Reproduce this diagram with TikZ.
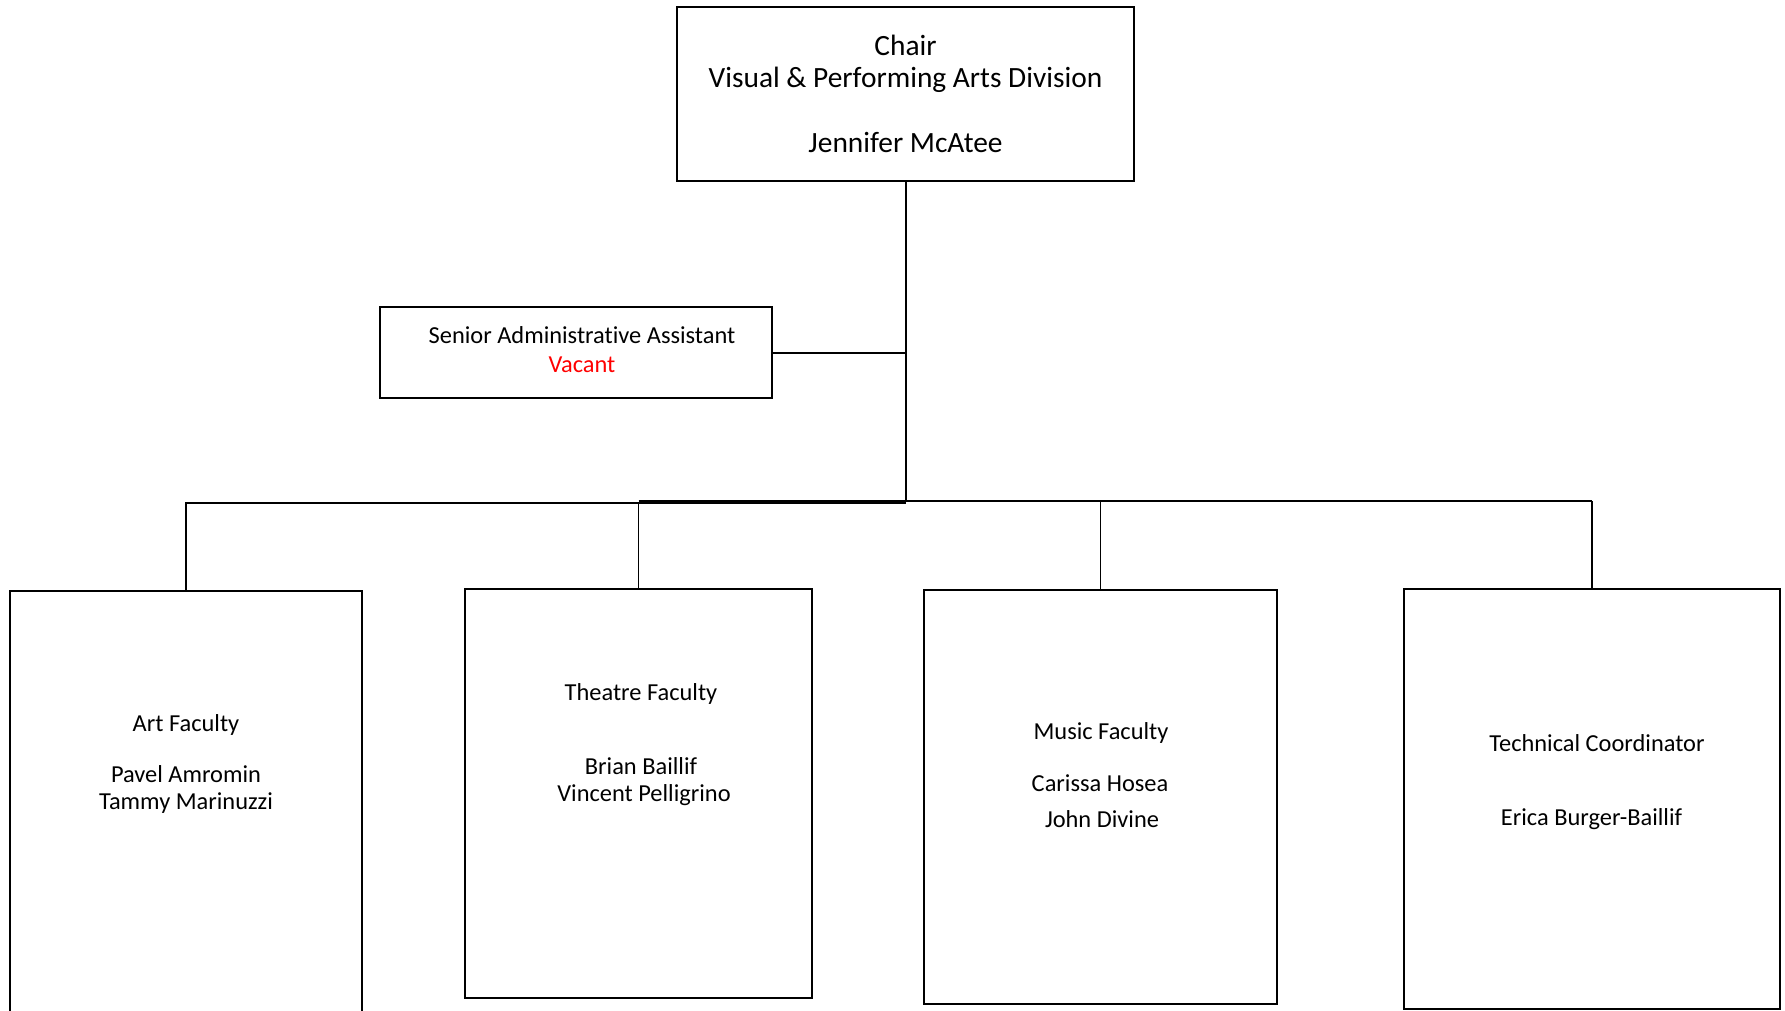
\documentclass[tikz,border=0pt]{standalone}
\usepackage{fontspec}
\setmainfont[Ligatures={NoCommon}]{Carlito}
\begin{document}
\begin{tikzpicture}[x=1pt,y=-1pt,
  box/.style={draw=black, line width=2pt, inner sep=0pt, fill=none},
  lbl/.style={inner sep=0pt, anchor=center, text height=15.6pt, text depth=0pt, font=\fontsize{24.4}{29}\selectfont},
  big/.style={inner sep=0pt, anchor=center, text height=18.8pt, text depth=0pt, font=\fontsize{29.4}{32}\selectfont},
  conn/.style={line width=2pt},
  drop/.style={line width=1.6pt}]
\useasboundingbox (0,0) rectangle (1785,1011);
\clip (0,0) rectangle (1785,1011);
\fill[white] (0,0) rectangle (1785,1011);

% boxes
\node[box, line width=2.3pt, minimum width=457pt, minimum height=174pt] (chair) at (905.5,94) {};
\node[box, minimum width=392pt, minimum height=91pt] (senior) at (576,352.5) {};
\node[box, minimum width=352pt, minimum height=439pt] (art) at (186,810.5) {};
\node[box, minimum width=347pt, minimum height=409pt] (theatre) at (638.5,793.5) {};
\node[box, minimum width=353pt, minimum height=414pt] (music) at (1100.5,797) {};
\node[box, minimum width=376pt, minimum height=420pt] (tech) at (1592,799) {};

% junction coordinates
\coordinate (hub) at (906,502);
\coordinate (hubL) at (906,503);
\coordinate (hubT) at (906,502);
\coordinate (hubR) at (906,500.5);
\coordinate (side) at (906,352.5);

% connectors
\draw[line width=2.8pt] (chair.south -| hub) -- (hub);
\draw[conn] (senior.east) -- (side);
\draw[conn] (art.north) -- (art.north |- hubL) -- (hubL);
\draw[line width=3.6pt] (theatre.north |- hubT) -- (hubT);
\draw[drop] (theatre.north) -- (theatre.north |- hubT);
\draw[conn] (hubR) -- (hubR -| tech.north);
\draw[drop] (music.north) -- (music.north |- hubR);
\draw[drop] (tech.north) -- (tech.north |- hubR);

% texts
\node[big] (t1) at (905.5,46) {Chair};
\node[big] (t2) at (905.5,78) {Visual \& Performing Arts Division};
\node[big] (t3) at (905.5,143) {Jennifer McAtee};

\node[lbl] (s1) at (582,336) {Senior Administrative Assistant};
\node[lbl, text=red] (s2) at (582,364.5) {Vacant};

\node[lbl] (a1) at (186,723.5) {Art Faculty};
\node[lbl] (a2) at (186,775) {Pavel Amromin};
\node[lbl] (a3) at (186,802) {Tammy Marinuzzi};

\node[lbl] (th1) at (641,693) {Theatre Faculty};
\node[lbl] (th2) at (641,766.5) {Brian Baillif};
\node[lbl] (th3) at (644,793.5) {Vincent Pelligrino};

\node[lbl] (m1) at (1101,731.5) {Music Faculty};
\node[lbl] (m2) at (1100,784) {Carissa Hosea};
\node[lbl] (m3) at (1102,820) {John Divine};

\node[lbl] (te1) at (1597,744) {Technical Coordinator};
\node[lbl] (te2) at (1591.5,818) {Erica Burger-Baillif};
\end{tikzpicture}
\end{document}
